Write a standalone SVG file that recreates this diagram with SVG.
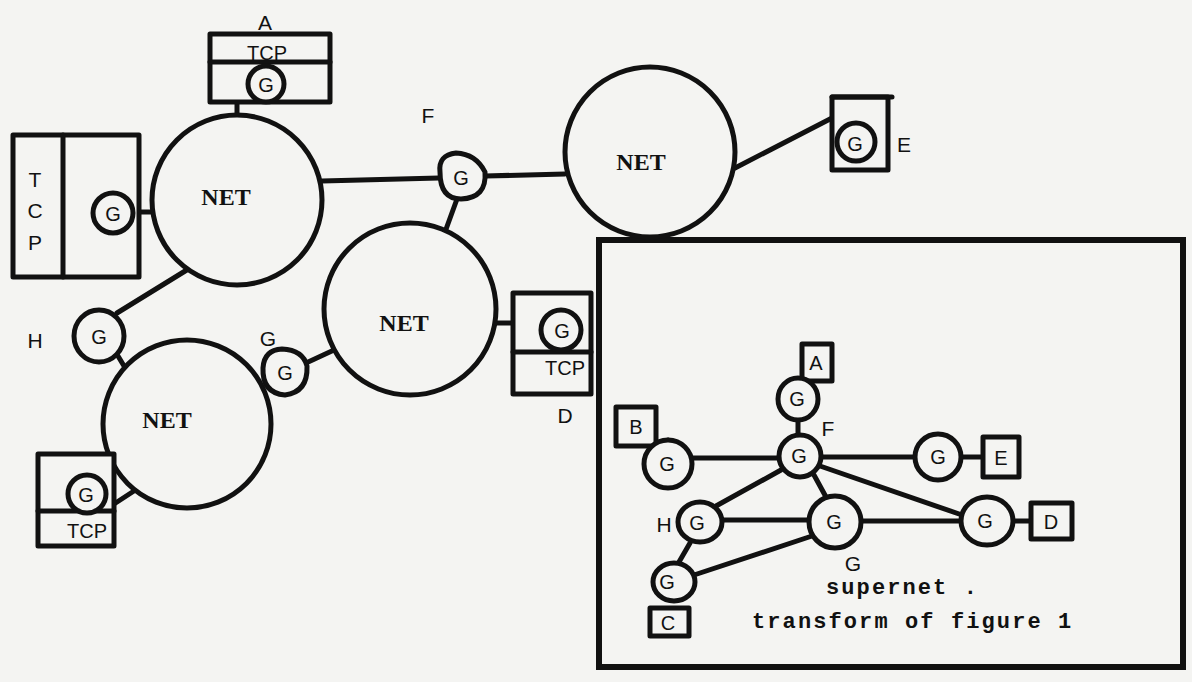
<svg xmlns="http://www.w3.org/2000/svg" width="1192" height="682" viewBox="0 0 1192 682">
<style>
.bg{fill:#f4f4f2}
.s{fill:none;stroke:#111;stroke-width:5;stroke-linecap:round;stroke-linejoin:round}
.w{fill:#f4f4f2;stroke:#111;stroke-width:5;stroke-linejoin:round}
.net{font-family:"Liberation Serif",serif;font-weight:bold;font-size:24px;fill:#111;text-anchor:middle}
.g{font-family:"Liberation Sans",sans-serif;font-size:20px;fill:#111;text-anchor:middle}
.lab{font-family:"Liberation Sans",sans-serif;font-size:21px;fill:#111;text-anchor:middle}
.mono{font-family:"Liberation Mono",monospace;font-weight:bold;font-size:22px;fill:#111;letter-spacing:2.1px}
</style>
<rect class="bg" x="0" y="0" width="1192" height="682"/>

<g id="connectors">
<line class="s" x1="237" y1="102" x2="237" y2="115"/>
<line class="s" x1="134" y1="212" x2="152" y2="212"/>
<line class="s" x1="322" y1="181" x2="439" y2="178"/>
<line class="s" x1="485" y1="176" x2="565" y2="174"/>
<line class="s" x1="457" y1="199" x2="445" y2="232"/>
<line class="s" x1="735" y1="168" x2="832" y2="118"/>
<line class="s" x1="497" y1="323" x2="513" y2="323"/>
<line class="s" x1="117" y1="313" x2="190" y2="268"/>
<line class="s" x1="118" y1="356" x2="124" y2="366"/>
<line class="s" x1="306" y1="363" x2="334" y2="350"/>
<line class="s" x1="114" y1="504" x2="137" y2="489"/>
<line class="s" x1="798" y1="420" x2="798" y2="435"/>
<line class="s" x1="693" y1="458" x2="778" y2="458"/>
<line class="s" x1="822" y1="457" x2="915" y2="457"/>
<line class="s" x1="962" y1="457" x2="982" y2="457"/>
<line class="s" x1="820" y1="466" x2="962" y2="515"/>
<line class="s" x1="781" y1="470" x2="716" y2="506"/>
<line class="s" x1="814" y1="475" x2="826" y2="497"/>
<line class="s" x1="722" y1="520" x2="808" y2="520"/>
<line class="s" x1="862" y1="521" x2="961" y2="521"/>
<line class="s" x1="1013" y1="521" x2="1030" y2="521"/>
<line class="s" x1="690" y1="543" x2="679" y2="562"/>
<line class="s" x1="694" y1="575" x2="812" y2="536"/>
<line class="s" x1="668" y1="440" x2="655" y2="445"/>
</g>

<g id="inset">
<rect x="599" y="240" width="584" height="427" fill="none" stroke="#111" stroke-width="6"/>
</g>

<g id="net1">
<circle class="w" cx="237" cy="200" r="85"/>
<text class="net" x="226" y="205">NET</text>
</g>
<g id="net2">
<circle class="w" cx="650" cy="152" r="85"/>
<text class="net" x="641" y="170">NET</text>
</g>
<g id="net3">
<circle class="w" cx="410" cy="309" r="86"/>
<text class="net" x="404" y="331">NET</text>
</g>
<g id="net4">
<circle class="w" cx="187" cy="424" r="84"/>
<text class="net" x="167" y="428">NET</text>
</g>

<g id="hostA">
<text class="lab" x="265" y="30">A</text>
<rect class="w" x="210" y="34" width="120" height="68"/>
<line class="s" x1="210" y1="62" x2="330" y2="62"/>
<text class="g" x="267" y="60">TCP</text>
<circle class="w" cx="266" cy="84" r="18"/>
<text class="g" x="266" y="92">G</text>
</g>

<g id="hostB">
<rect class="w" x="13" y="135" width="126" height="142"/>
<line class="s" x1="63" y1="135" x2="63" y2="277"/>
<text class="lab" x="35" y="187" font-size="23">T</text>
<text class="lab" x="35" y="218" font-size="23">C</text>
<text class="lab" x="35" y="250" font-size="23">P</text>
<circle class="w" cx="113" cy="213" r="20"/>
<text class="g" x="113" y="221">G</text>
</g>

<g id="gwF">
<text class="lab" x="428" y="123">F</text>
<path class="w" d="M440,172 Q438,155 456,153 Q476,154 485,172 Q487,198 461,199 Q440,199 440,172 Z"/>
<text class="g" x="461" y="185">G</text>
</g>

<g id="hostE">
<rect class="w" x="832" y="97" width="56" height="73"/>
<line class="s" x1="832" y1="97" x2="892" y2="97"/>
<circle class="w" cx="856" cy="142" r="19"/>
<text class="g" x="855" y="151">G</text>
<text class="lab" x="904" y="152">E</text>
</g>

<g id="hostD">
<rect class="w" x="513" y="293" width="78" height="101"/>
<line class="s" x1="513" y1="352" x2="591" y2="352"/>
<circle class="w" cx="561" cy="330" r="20"/>
<text class="g" x="562" y="338">G</text>
<text class="g" x="565" y="375">TCP</text>
<text class="lab" x="565" y="423">D</text>
</g>

<g id="gwH">
<text class="lab" x="35" y="348">H</text>
<ellipse class="w" cx="99" cy="336" rx="25" ry="26"/>
<text class="g" x="99" y="344">G</text>
</g>

<g id="gwG">
<text class="lab" x="268" y="346">G</text>
<path class="w" d="M263,368 Q264,350 282,349 Q303,350 307,366 Q308,392 285,395 Q262,393 263,368 Z"/>
<text class="g" x="285" y="380">G</text>
</g>

<g id="hostC">
<rect class="w" x="38" y="454" width="76" height="92"/>
<line class="s" x1="38" y1="511" x2="114" y2="511"/>
<circle class="w" cx="87" cy="494" r="19"/>
<text class="g" x="86" y="502">G</text>
<text class="g" x="87" y="538">TCP</text>
</g>

<g id="iA">
<rect class="w" x="802" y="344" width="30" height="37"/>
<text class="g" x="816" y="370" font-size="18">A</text>
<ellipse class="w" cx="798" cy="399" rx="20" ry="21"/>
<text class="g" x="797" y="406" font-size="18">G</text>
</g>
<g id="iF">
<text class="lab" x="828" y="436" font-size="19">F</text>
<circle class="w" cx="800" cy="456" r="21"/>
<text class="g" x="799" y="463" font-size="18">G</text>
</g>
<g id="iB">
<rect class="w" x="616" y="407" width="40" height="39"/>
<text class="g" x="636" y="434" font-size="18">B</text>
<circle class="w" cx="668" cy="464" r="24"/>
<text class="g" x="667" y="471" font-size="18">G</text>
</g>
<g id="iE">
<circle class="w" cx="938" cy="457" r="23"/>
<text class="g" x="938" y="464" font-size="18">G</text>
<rect class="w" x="983" y="437" width="36" height="40"/>
<text class="g" x="1001" y="465" font-size="18">E</text>
</g>
<g id="iH">
<text class="lab" x="664" y="532" font-size="19">H</text>
<ellipse class="w" cx="700" cy="522" rx="22" ry="20"/>
<text class="g" x="697" y="530" font-size="18">G</text>
</g>
<g id="iG">
<circle class="w" cx="835" cy="522" r="26"/>
<text class="g" x="834" y="529" font-size="18">G</text>
<text class="lab" x="853" y="571" font-size="19">G</text>
</g>
<g id="iD">
<ellipse class="w" cx="987" cy="521" rx="26" ry="24"/>
<text class="g" x="985" y="528" font-size="18">G</text>
<rect class="w" x="1031" y="503" width="41" height="36"/>
<text class="g" x="1051" y="529" font-size="18">D</text>
</g>
<g id="iC">
<ellipse class="w" cx="674" cy="582" rx="21" ry="19"/>
<text class="g" x="667" y="589" font-size="18">G</text>
<rect class="w" x="650" y="608" width="39" height="28"/>
<text class="g" x="668" y="630" font-size="18">C</text>
</g>

<g id="caption">
<text class="mono" x="826" y="594">supernet .</text>
<text class="mono" x="752" y="628">transform of figure 1</text>
</g>
</svg>
